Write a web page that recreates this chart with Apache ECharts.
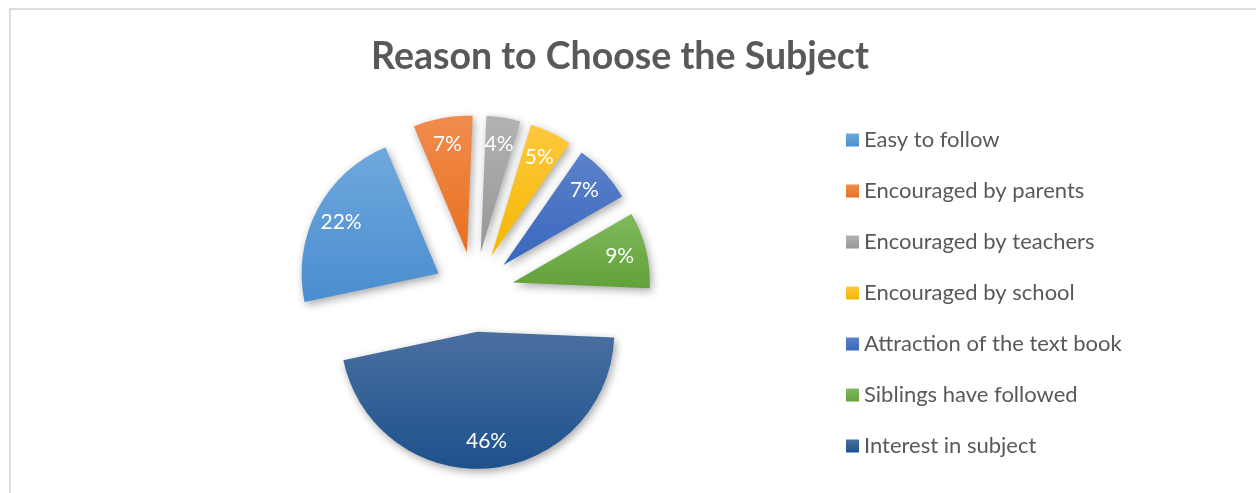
<!DOCTYPE html>
<html>
<head>
<meta charset="utf-8">
<script src="https://cdn.jsdelivr.net/npm/echarts@6/dist/echarts.min.js"></script>
<style>
  html, body { margin: 0; padding: 0; background: #fff; overflow: hidden; }
  .frame {
    position: absolute; left: 9px; top: 8px;
    width: 1400px; height: 700px;
    border: 2px solid #dcdcdc;
  }
  #chart { position: absolute; left: 0; top: 0; width: 1240px; height: 493px; }
</style>
</head>
<body>
<div class="frame"></div>
<div id="chart"></div>
<script>
// 資料
const reasons = [
  "Easy to follow",
  "Encouraged by parents",
  "Encouraged by teachers",
  "Encouraged by school",
  "Attraction of the text book",
  "Siblings have followed",
  "Interest in subject",
];
const shares = [22, 7, 4, 5, 7, 9, 46];

// 漸層色 (上 -> 下)
const topColors = ["#6fa8dd", "#f18c4e", "#b2b2b2", "#ffc83f", "#5c82ca", "#80ba5c", "#4a6f9f"];
const bottomColors = ["#4a8dcf", "#e8701e", "#979797", "#f2b800", "#3966bd", "#62a13a", "#1d518d"];

const chart = echarts.init(document.getElementById("chart"));

const grad = (i) =>
  new echarts.graphic.LinearGradient(0, 0, 0, 1, [
    { offset: 0, color: topColors[i] },
    { offset: 1, color: bottomColors[i] },
  ]);

const center = [474, 292];
const outerR = 137;
const explode = 40;

const option = {
  animation: false,
  title: {
    text: "Reason to Choose the Subject",
    left: "center",
    top: 33,
    textStyle: {
      fontFamily: "Lato",
      fontWeight: "bold",
      fontSize: 37.5,
      color: "#595959",
    },
  },
  legend: {
    orient: "vertical",
    left: 841,
    top: 124,
    itemWidth: 13,
    itemHeight: 13,
    itemGap: 29,
    icon: "rect",
    data: reasons,
    selectedMode: false,
    textStyle: { fontFamily: "Lato", fontSize: 22, color: "#595959" },
  },
  series: [
    {
      // 圓餅本體
      type: "pie",
      center: center,
      radius: [0, outerR],
      startAngle: 192,
      selectedMode: "multiple",
      selectedOffset: explode,
      silent: true,
      label: { show: false },
      labelLine: { show: false },
      emphasis: { disabled: true },
      itemStyle: {
        shadowBlur: 8,
        shadowColor: "rgba(0,0,0,0.35)",
        shadowOffsetX: 2,
        shadowOffsetY: 3,
      },
      data: reasons.map((name, i) => ({
        name: name,
        value: shares[i],
        selected: true,
        itemStyle: { color: grad(i) },
        select: { itemStyle: { color: grad(i) } },
      })),
    },
    {
      // 百分比標籤 (透明層)
      type: "pie",
      center: center,
      radius: [77, outerR],
      startAngle: 192,
      selectedMode: "multiple",
      selectedOffset: explode,
      silent: true,
      legendHoverLink: false,
      itemStyle: { color: "rgba(0,0,0,0)" },
      label: {
        show: true,
        position: "inside",
        formatter: "{c}%",
        color: "#fff",
        fontFamily: "Lato",
        fontSize: 21,
      },
      labelLine: { show: false },
      emphasis: { disabled: true },
      data: reasons.map((name, i) => ({
        name: name,
        value: shares[i],
        selected: true,
        select: { itemStyle: { color: "rgba(0,0,0,0)" } },
      })),
    },
  ],
};

chart.setOption(option);
</script>
</body>
</html>
